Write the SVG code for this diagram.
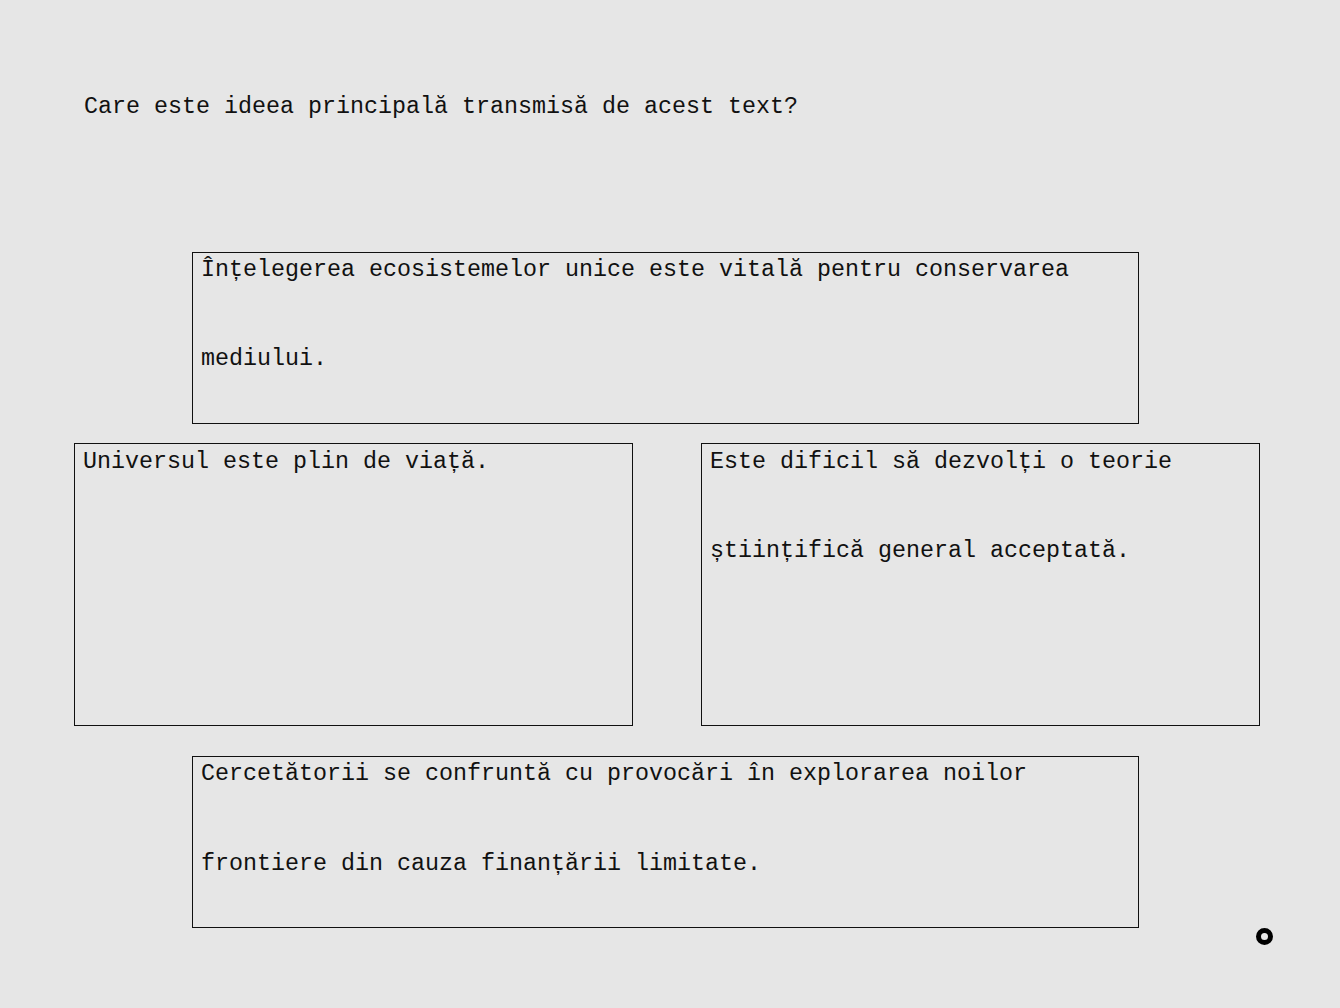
<svg xmlns="http://www.w3.org/2000/svg" width="1340" height="1008" viewBox="0 0 1340 1008">
<style>
.t{font-family:"Liberation Mono","DejaVu Sans Mono",monospace;font-size:23.33px;fill:#111}
.b{fill:none;stroke:#111;stroke-width:1}
</style>
<rect width="1340" height="1008" fill="#e6e6e6"/>
<g id="question"><text class="t" x="84" y="113">Care este ideea principală transmisă de acest text?</text></g>
<g id="option1">
<rect class="b" x="192.5" y="252.5" width="946" height="171"/>
<text class="t" x="201" y="276">Înțelegerea ecosistemelor unice este vitală pentru conservarea</text>
<text class="t" x="201" y="365">mediului.</text>
</g>
<g id="option2">
<rect class="b" x="74.5" y="443.5" width="558" height="282"/>
<text class="t" x="83" y="468">Universul este plin de viață.</text>
</g>
<g id="option3">
<rect class="b" x="701.5" y="443.5" width="558" height="282"/>
<text class="t" x="710" y="468">Este dificil să dezvolți o teorie</text>
<text class="t" x="710" y="557">științifică general acceptată.</text>
</g>
<g id="option4">
<rect class="b" x="192.5" y="756.5" width="946" height="171"/>
<text class="t" x="201" y="780">Cercetătorii se confruntă cu provocări în explorarea noilor</text>
<text class="t" x="201" y="870">frontiere din cauza finanțării limitate.</text>
</g>
<g id="connectors"></g>
<g id="marker"><circle cx="1264.5" cy="936.5" r="6" fill="none" stroke="#000" stroke-width="5"/></g>
</svg>
